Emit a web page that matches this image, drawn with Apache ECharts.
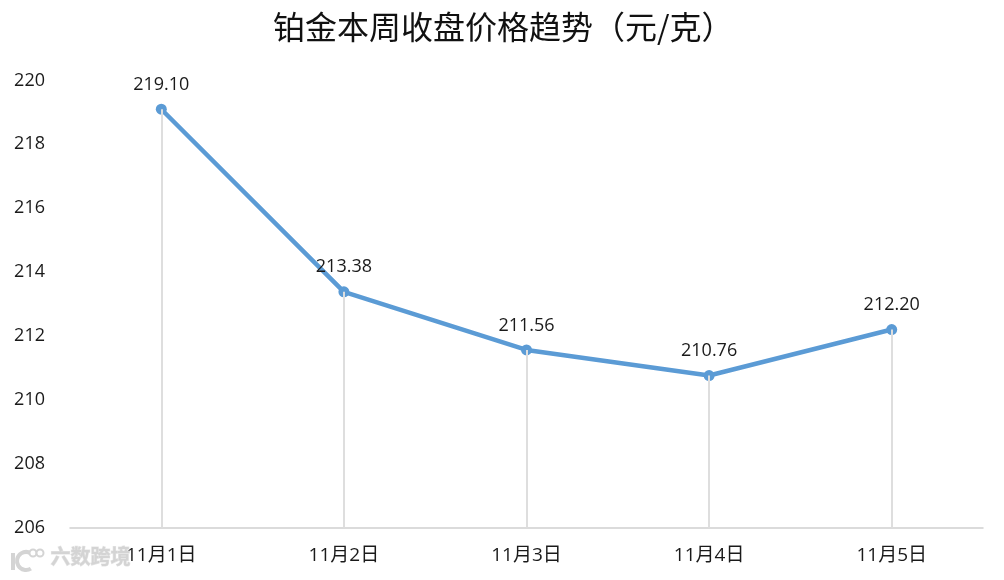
<!DOCTYPE html>
<html><head><meta charset="utf-8">
<style>html,body{margin:0;padding:0;background:#fff}#c{width:1004px;height:580px}</style>
<script src="https://cdn.jsdelivr.net/npm/echarts@6/dist/echarts.min.js"></script>
</head><body><div id="c"></div>
<script>
const categories = ['11月1日','11月2日','11月3日','11月4日','11月5日'];
const prices = [219.10,213.38,211.56,210.76,212.20];
const yTicks = {min:206,max:220,step:2};
const titleText = '铂金本周收盘价格趋势（元/克）';
const watermark = '六数跨境';
const font = '"Open Sans","Noto Sans CJK SC",sans-serif';
const wmFill = '#d4d4d4';
const chart = echarts.init(document.getElementById('c'),null,{renderer:'canvas'});
chart.setOption({
  animation:false,
  backgroundColor:'#fff',
  title:{text:titleText,left:268,top:6,textStyle:{fontFamily:'"Noto Sans CJK SC",sans-serif',fontSize:32,fontWeight:'normal',color:'#111'}},
  grid:{left:70,right:21,top:80.5,bottom:52.5,containLabel:false},
  xAxis:{type:'category',data:categories,boundaryGap:true,
    axisLine:{lineStyle:{color:'#d0d0d0',width:1.5}},axisTick:{show:false},
    axisLabel:{fontFamily:font,fontSize:19,color:'#1a1a1a',margin:19}},
  yAxis:{type:'value',min:yTicks.min,max:yTicks.max,interval:yTicks.step,
    axisLine:{show:false},axisTick:{show:false},splitLine:{show:false},
    axisLabel:{fontFamily:font,fontSize:18,color:'#1a1a1a',margin:25,align:'right'}},
  series:[{type:'line',data:prices,symbol:'circle',symbolSize:11,
    lineStyle:{color:'#5b9bd5',width:4.5},itemStyle:{color:'#5b9bd5'},
    label:{show:true,position:'top',distance:10,fontFamily:font,fontSize:18,color:'#1a1a1a',formatter:p=>p.value.toFixed(2)},
    markLine:{symbol:'none',silent:true,label:{show:false},lineStyle:{color:'#dedede',width:2,type:'solid'},animation:false,
      data:categories.map((c,i)=>[{coord:[c,yTicks.min]},{coord:[c,prices[i]]}])}}],
  graphic:[
    {type:'text',left:50,top:546,z:1,style:{text:watermark,fontFamily:'"Noto Sans CJK SC",sans-serif',fontWeight:'bold',fontSize:20,fill:wmFill,stroke:'#e6e6e6',lineWidth:1}},
    {type:'line',z:1,shape:{x1:13,y1:553,x2:13,y2:570},style:{stroke:wmFill,lineWidth:4}},
    {type:'arc',z:1,shape:{cx:26,cy:561,r:9,startAngle:1.0,endAngle:5.3},style:{stroke:wmFill,lineWidth:4,fill:null}},
    {type:'circle',z:1,shape:{cx:33,cy:553,r:3.5},style:{stroke:wmFill,lineWidth:2,fill:'#fff'}},
    {type:'circle',z:1,shape:{cx:40,cy:553,r:3.5},style:{stroke:wmFill,lineWidth:2,fill:'#fff'}}
  ]
});
</script></body></html>
